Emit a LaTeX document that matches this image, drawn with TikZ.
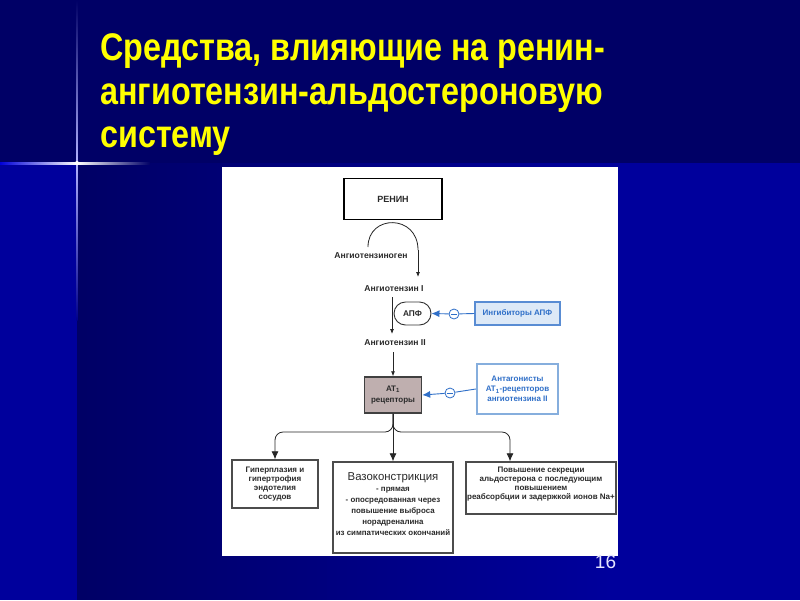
\documentclass[tikz,border=0pt]{standalone}
\usepackage{fontspec}
\setmainfont{Liberation Sans}
\usetikzlibrary{arrows.meta,shapes.misc,calc}
\definecolor{navyD}{HTML}{000066}
\definecolor{navyB}{HTML}{00009C}
\definecolor{ttl}{HTML}{FFFF00}
\definecolor{blu}{HTML}{2F6FC8}
\definecolor{iceblu}{HTML}{DDE9F7}
\definecolor{frameblu}{HTML}{86AEDD}
\definecolor{mauve}{HTML}{BFAFAF}
\definecolor{txt}{HTML}{2A2A2A}
\tikzset{
  ttltext/.style={anchor=base west, text=ttl, inner sep=0, font=\fontsize{38.5}{43.5}\selectfont\bfseries},
  smalltext/.style={inner sep=0, text=txt, align=center, font=\fontsize{8.6}{10}\selectfont\bfseries},
  resbox/.style={draw=black!70, line width=1.4pt, fill=white, inner sep=0, align=center, text=txt,
     font=\fontsize{8}{10}\selectfont\bfseries},
  minuscirc/.style={circle, draw=blu, line width=0.8pt, fill=white, minimum size=10pt, inner sep=0},
  blueline/.style={draw=blu, line width=0.9pt},
  blackline/.style={draw=black!85, line width=0.8pt},
  smallarrow/.style={-{Latex[length=5pt,width=4pt]}},
  bigarrow/.style={-{Latex[length=8pt,width=7pt]}},
  bluearrow/.style={-{Latex[length=8pt,width=7pt]}},
}
\begin{document}
\begin{tikzpicture}[x=1pt,y=-1pt]
\useasboundingbox (0,0) rectangle (800,600);
% background
\fill[navyD] (0,0) rectangle (800,600);
\fill[navyB] (0,163) rectangle (77,600);
\foreach \i in {0,...,53}{
  \pgfmathsetmacro\p{100*\i/53}
  \fill[navyB!\p!navyD] ({77+\i*10},163) rectangle ({87.5+\i*10},600);
}
\fill[navyB] (607,163) rectangle (800,600);
% glow lines
\shade[top color=navyD, bottom color=blue!30!white] (76.4,0) rectangle (77.6,163);
\shade[top color=blue!30!white, bottom color=navyB!70!navyD] (76.4,163) rectangle (77.6,320);
\shade[left color=blue!60!navyB, right color=white] (0,162) rectangle (77,164);
\shade[left color=white, right color=navyD] (77,162) rectangle (150,164);
\fill[white] (77,163) circle (2);
% title
\node[ttltext] (t1) at (100,60) {\scalebox{0.84}[1]{Средства, влияющие на ренин-}};
\node[ttltext] (t2) at (100,104) {\scalebox{0.84}[1]{ангиотензин-альдостероновую}};
\node[ttltext] (t3) at (100,147) {\scalebox{0.84}[1]{систему}};
% panel
\fill[white] (222,167) rectangle (618,556);
% diagram
\node[draw=black, line width=1.6pt, minimum width=98pt, minimum height=41pt, inner sep=0,
      font=\fontsize{9}{10}\selectfont\bfseries, text=txt] (renin) at (393,199) {РЕНИН};
\coordinate (arcL) at (368,247);
\coordinate (arcR) at (418,250);
\coordinate (a1tip) at (418,277);
\draw[blackline] (arcL) .. controls (368,214) and (418,214) .. (arcR);
\draw[blackline, smallarrow] (arcR) -- (a1tip);
\node[smalltext] (agen) at (371,256) {Ангиотензиноген};
\node[smalltext] (ang1) at (394,289) {Ангиотензин I};
\node[draw=black!80, line width=0.9pt, rounded rectangle, minimum width=37pt, minimum height=23pt,
      inner sep=0, font=\fontsize{8.3}{9}\selectfont\bfseries, text=txt] (apf) at (412.5,313.5) {АПФ};
\coordinate (v1a) at (392,297);
\coordinate (v1b) at (392,334);
\draw[blackline, smallarrow] (v1a) -- (v1b);
\node[smalltext] (ang2) at (395,343) {Ангиотензин II};
\node[resbox, draw=black!75, fill=mauve, minimum width=57pt, minimum height=36pt,
      font=\fontsize{8}{11}\selectfont\bfseries] (at1) at (393,395) {AT\textsubscript{1}\\рецепторы};
\coordinate (v2a) at (393,352);
\draw[blackline, smallarrow] (v2a) -- (at1.north);
% inhibitors
\node[draw=blu!80, line width=1.4pt, fill=iceblu, minimum width=85pt, minimum height=23pt, inner sep=0,
      text=blu, font=\fontsize{8}{9}\selectfont\bfseries] (inh) at (517.5,313.5) {Ингибиторы АПФ};
\node[minuscirc] (m1) at (454,314) {};
\draw[blu, line width=0.8pt] ($(m1)+(-3,0)$) -- ($(m1)+(3,0)$);
\draw[blueline] (inh.west) -- (m1);
\draw[blueline, bluearrow] (m1) -- (apf.east);
% antagonists
\node[draw=frameblu, line width=2.4pt, fill=white, minimum width=81pt, minimum height=50pt, inner sep=0,
      text=blu, align=center, font=\fontsize{8}{10}\selectfont\bfseries] (ant) at (517.5,389)
      {Антагонисты\\AT\textsubscript{1}-рецепторов\\ангиотензина II};
\node[minuscirc] (m2) at (450,393) {};
\draw[blu, line width=0.8pt] ($(m2)+(-3,0)$) -- ($(m2)+(3,0)$);
\draw[blueline] (ant.west) -- (m2);
\draw[blueline, bluearrow] (m2) -- (at1.east);
% bottom boxes
\node[resbox, minimum width=86pt, minimum height=48pt, font=\fontsize{8}{9.2}\selectfont\bfseries] (b1) at (275,484)
  {Гиперплазия и\\гипертрофия\\эндотелия\\сосудов};
\node[resbox, minimum width=120pt, minimum height=91pt, font=\fontsize{7.9}{11.1}\selectfont\bfseries] (b2) at (393,507.5)
  {{\fontsize{11.4}{12}\selectfont\mdseries Вазоконстрикция}\\- прямая\\- опосредованная через\\повышение выброса\\норадреналина\\из симпатических окончаний\\[-4pt]\mbox{}};
\node[resbox, minimum width=150pt, minimum height=52pt, font=\fontsize{8}{9}\selectfont\bfseries] (b3) at (541,488)
  {Повышение секреции\\альдостерона с последующим\\повышением\\реабсорбции и задержкой ионов Na+\\\mbox{}};
% branches
\draw[blackline, bigarrow, rounded corners=8] (at1.south) |- (275,432) -- (b1.north);
\draw[blackline, bigarrow, rounded corners=8] (at1.south) |- (510,432) -- ([xshift=-31pt]b3.north);
\draw[blackline, bigarrow] (at1.south) -- (b2.north);
% page number
\node[text=white!90!blue, inner sep=0, font=\fontsize{19}{19}\selectfont] (pg) at (605.5,562) {16};
\end{tikzpicture}
\end{document}
